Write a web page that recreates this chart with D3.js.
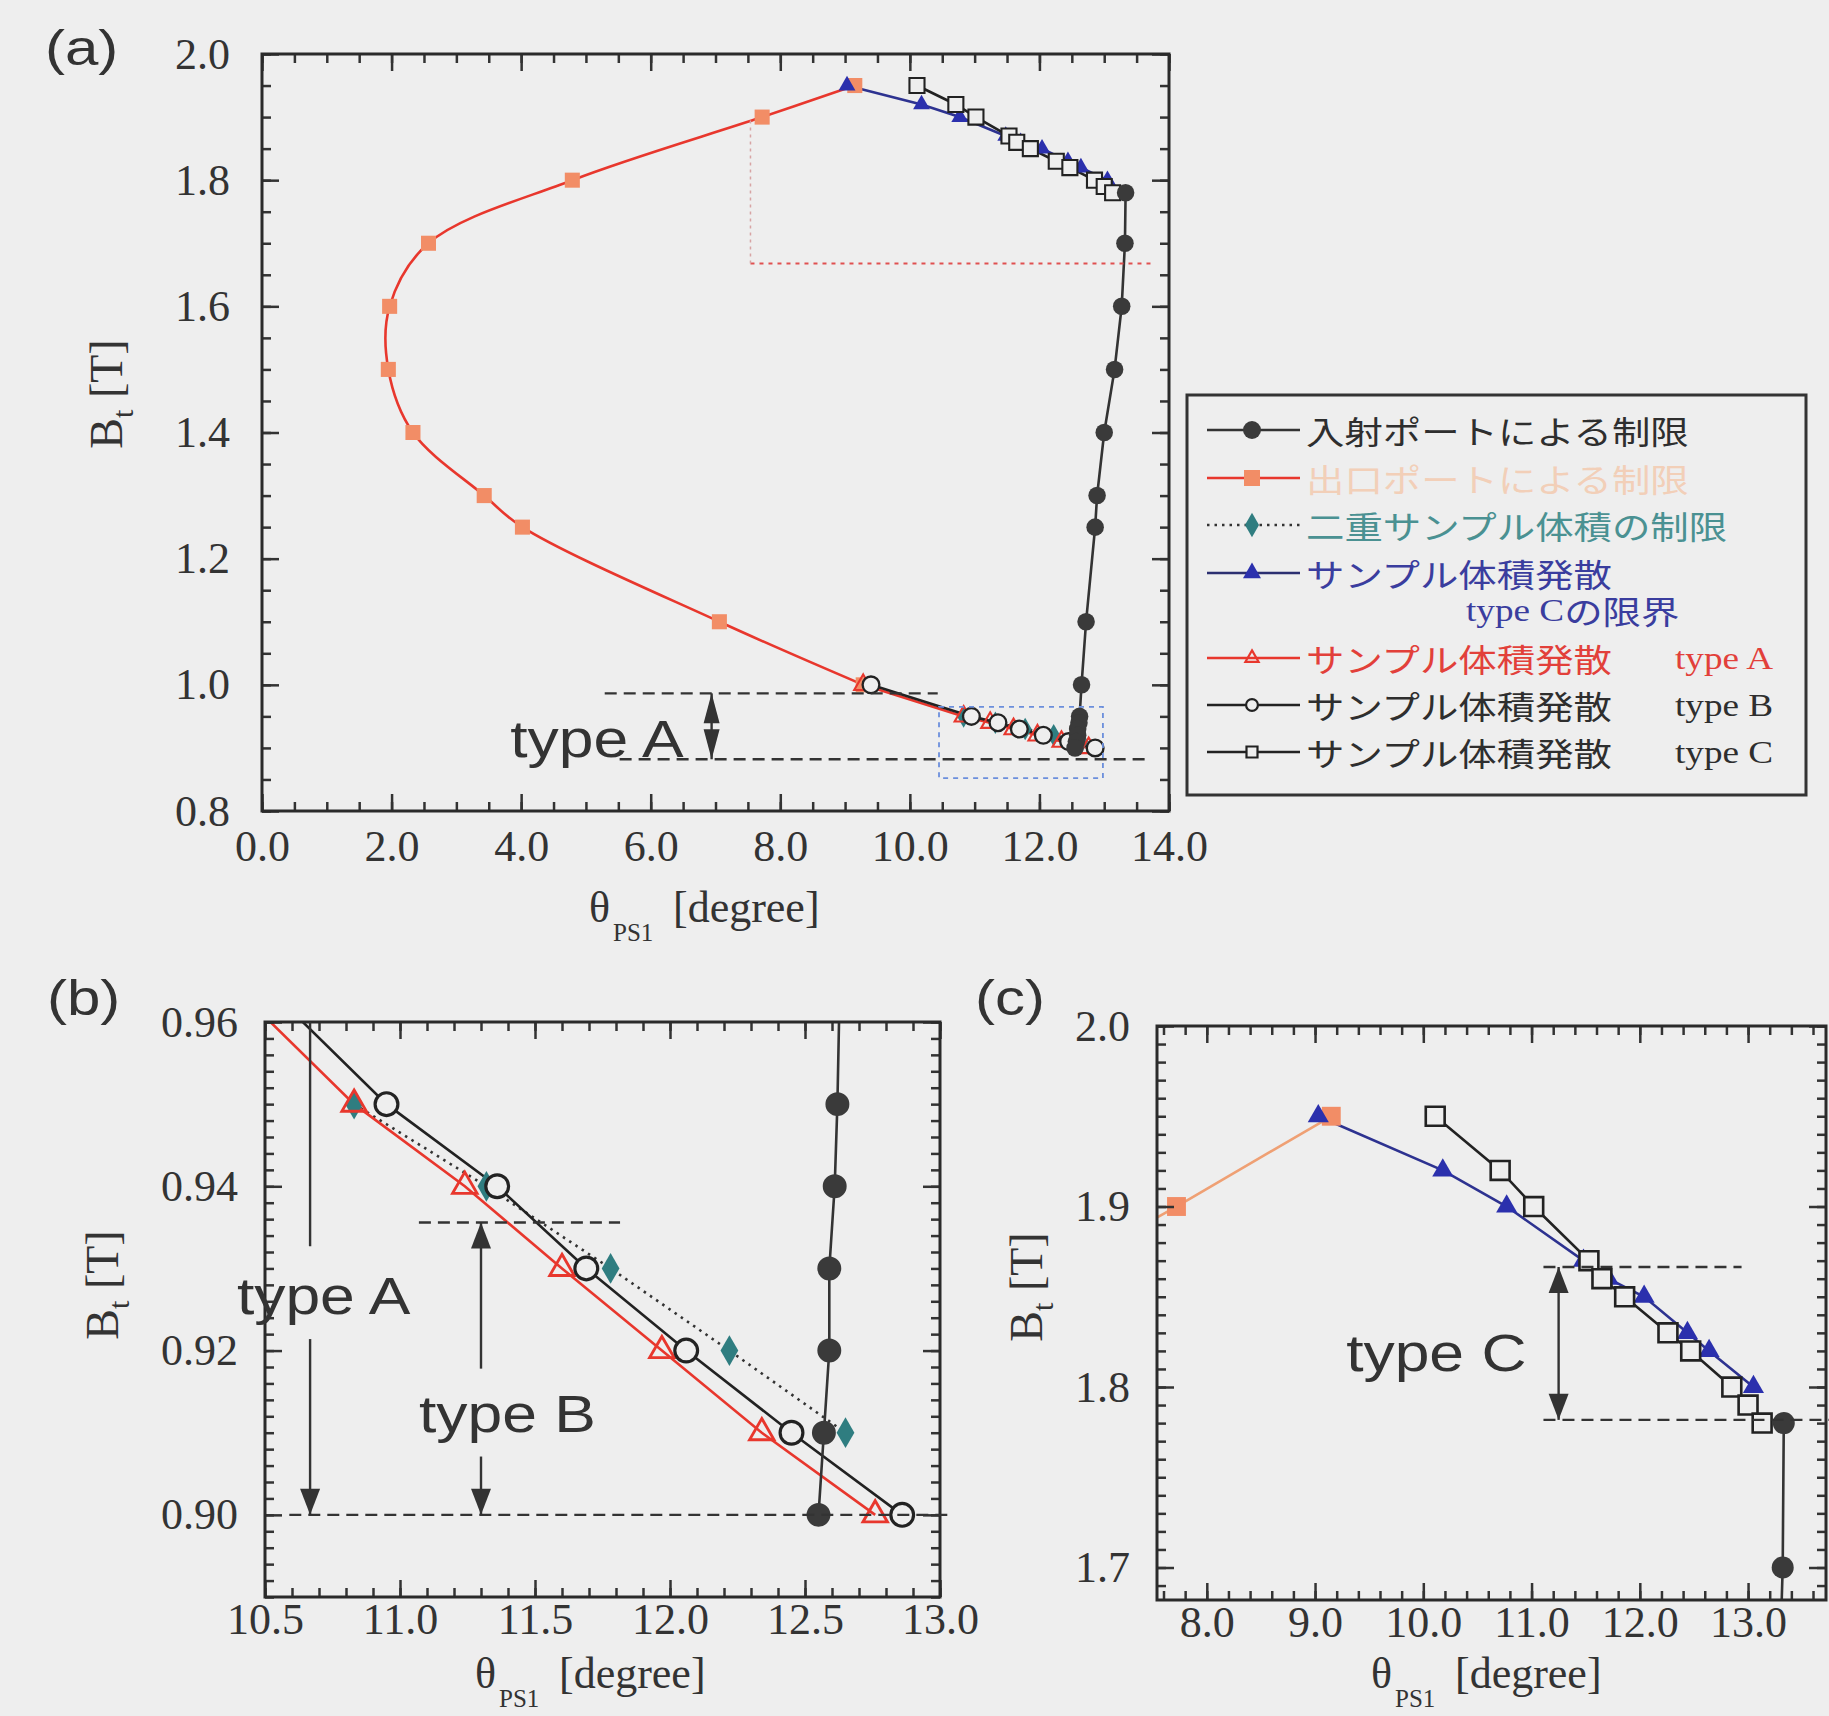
<!DOCTYPE html>
<html>
<head>
<meta charset="utf-8">
<title>B_t vs theta_PS1</title>
<script src="https://cdn.jsdelivr.net/npm/d3@7/dist/d3.min.js"></script>
<style>
  body { margin: 0; background: #eeeeee; }
  svg { display: block; }
</style>
</head>
<body>
<svg id="chart" width="1829" height="1716"></svg>
<script>
// values: theta_PS1 [degree] and B_t [T]
const entryTheta = [13.33, 13.32, 13.27, 13.16, 13.0, 12.89, 12.86, 12.72, 12.65, 12.62, 12.61, 12.59, 12.59, 12.57, 12.55];
const entryB = [1.78, 1.70, 1.60, 1.50, 1.40, 1.30, 1.25, 1.10, 1.00, 0.95, 0.94, 0.93, 0.92, 0.91, 0.90];

const exitTheta = [9.15, 7.72, 4.79, 2.57, 1.97, 1.95, 2.33, 3.43, 4.02, 7.06, 9.28];
const exitB = [1.95, 1.90, 1.80, 1.70, 1.60, 1.50, 1.40, 1.30, 1.25, 1.10, 1.00];

const doubleTheta = [10.83, 11.32, 11.78, 12.22, 12.65];
const doubleB = [0.95, 0.94, 0.93, 0.92, 0.91];

const limitCTheta = [9.03, 10.18, 10.77, 11.48, 11.71, 12.04, 12.44, 12.64, 13.05];
const limitCB = [1.95, 1.92, 1.90, 1.87, 1.86, 1.85, 1.83, 1.82, 1.80];

const typeATheta = [9.28, 10.83, 11.24, 11.60, 11.97, 12.34, 12.76];
const typeAB = [1.00, 0.95, 0.94, 0.93, 0.92, 0.91, 0.90];

const typeBTheta = [9.40, 10.95, 11.36, 11.69, 12.06, 12.45, 12.86];
const typeBB = [1.00, 0.95, 0.94, 0.93, 0.92, 0.91, 0.90];

const typeCTheta = [10.11, 10.71, 11.02, 11.53, 11.65, 11.86, 12.26, 12.47, 12.85, 13.00, 13.13];
const typeCB = [1.95, 1.92, 1.90, 1.87, 1.86, 1.85, 1.83, 1.82, 1.80, 1.79, 1.78];

// tick labels
const xTickLabelsA = ["0.0", "2.0", "4.0", "6.0", "8.0", "10.0", "12.0", "14.0"];
const yTickLabelsA = ["0.8", "1.0", "1.2", "1.4", "1.6", "1.8", "2.0"];
const xTickLabelsB = ["10.5", "11.0", "11.5", "12.0", "12.5", "13.0"];
const yTickLabelsB = ["0.90", "0.92", "0.94", "0.96"];
const xTickLabelsC = ["8.0", "9.0", "10.0", "11.0", "12.0", "13.0"];
const yTickLabelsC = ["1.7", "1.8", "1.9", "2.0"];

// legend
const legendLabels = ["入射ポートによる制限", "出口ポートによる制限", "二重サンプル体積の制限",
  "サンプル体積発散", "サンプル体積発散", "サンプル体積発散", "サンプル体積発散"];
const legendSuffix = ["", "", "", "", "type A", "type B", "type C"];
const legendSecondLine = ["type C", "の限界"];

const BG = "#eeeeee";
const SERIF = "'Liberation Serif', 'Times New Roman', serif";
const SANS = "'Liberation Sans', Arial, sans-serif";
const CJK = "'Noto Sans CJK JP', sans-serif";

const zip = (ts, bs) => ts.map((t, i) => ({ t: t, b: bs[i] }));

// drawing order = list order
const seriesList = [
  { key: "exit", pts: zip(exitTheta, exitB), line: "#e8372d", lineC: "#efa074", smooth: true,
    sym: d3.symbolSquare, size: 324, fill: "#f28d66", legendSize: 256, text: "#f2cfb8" },
  { key: "limitC", pts: zip(limitCTheta, limitCB), line: "#2d3290",
    sym: d3.symbolTriangle, size: 175, fill: "#2b30ad", legendSize: 140, legendLine: "#2b2f70", text: "#3a3d9e" },
  { key: "typeC", pts: zip(typeCTheta, typeCB), line: "#222",
    sym: d3.symbolSquare, size: 324, fill: BG, stroke: "#222", sw: 2.5, legendSize: 121, text: "#2e2e2e" },
  { key: "double", pts: zip(doubleTheta, doubleB), line: "#333", dash: "2.5,5",
    sym: d3.symbolDiamond, size: 210, fill: "#2f7d80", legendSize: 170, text: "#4a9192" },
  { key: "typeA", pts: zip(typeATheta, typeAB), line: "#e8372d",
    sym: d3.symbolTriangle, size: 200, fill: "none", stroke: "#e8372d", sw: 2.5, legendSize: 75, text: "#e2403a" },
  { key: "typeB", pts: zip(typeBTheta, typeBB), line: "#222",
    sym: d3.symbolCircle, size: 314, fill: BG, stroke: "#222", sw: 2.8, legendSize: 110, text: "#2e2e2e" },
  { key: "entry", pts: zip(entryTheta, entryB), line: "#333",
    sym: d3.symbolCircle, size: 346, fill: "#3a3a3a", legendSize: 254, text: "#2e2e2e" }
];
const byKey = {};
seriesList.forEach(s => byKey[s.key] = s);

const panels = [
  { id: "a", left: 262, right: 1169, top: 54, bottom: 811, xDom: [0, 14], yDom: [0.8, 2.0], mk: 0.7,
    xLabels: xTickLabelsA, yLabels: yTickLabelsA, xMinor: 0.5, yMinor: 0.05, xPad: 19, yPad: 32 },
  { id: "b", left: 265, right: 940, top: 1022, bottom: 1597, xDom: [10.5, 13.0], yDom: [0.89, 0.96], mk: 1.3,
    xLabels: xTickLabelsB, yLabels: yTickLabelsB, xMinor: 0.1, yMinor: 0.002, xPad: 6, yPad: 27 },
  { id: "c", left: 1157, right: 1826, top: 1026, bottom: 1600, xDom: [7.54, 13.72], yDom: [1.682, 2.0], mk: 1.1,
    xLabels: xTickLabelsC, yLabels: yTickLabelsC, xMinor: 0.2, yMinor: 0.01, xPad: 6, yPad: 27 }
];

const svg = d3.select("#chart");
svg.append("rect").attr("width", 1829).attr("height", 1716).attr("fill", BG);
const defs = svg.append("defs");

function steps(dom, step) {
  const a = Math.ceil(dom[0] / step - 1e-6), b = Math.floor(dom[1] / step + 1e-6);
  return d3.range(a, b + 1).map(k => +(k * step).toFixed(6));
}

function drawAxes(P, sc) {
  const g = svg.append("g");
  const xMaj = P.xLabels.map(Number), yMaj = P.yLabels.map(Number);
  const xMin = steps(P.xDom, P.xMinor), yMin = steps(P.yDom, P.yMinor);
  const L = 17, l = 9;

  const put = (axis, tx, ty) => g.append("g").attr("transform", `translate(${tx},${ty})`).call(axis);
  put(d3.axisBottom(sc.x).tickValues(xMin).tickSize(-l).tickFormat(""), 0, P.bottom);
  put(d3.axisBottom(sc.x).tickValues(xMaj).tickSizeInner(-L).tickSizeOuter(0).tickPadding(P.xPad)
    .tickFormat((d, i) => P.xLabels[i]), 0, P.bottom);
  put(d3.axisTop(sc.x).tickValues(xMin).tickSize(-l).tickFormat(""), 0, P.top);
  put(d3.axisTop(sc.x).tickValues(xMaj).tickSize(-L).tickFormat(""), 0, P.top);
  put(d3.axisLeft(sc.y).tickValues(yMin).tickSize(-l).tickFormat(""), P.left, 0);
  put(d3.axisLeft(sc.y).tickValues(yMaj).tickSizeInner(-L).tickSizeOuter(0).tickPadding(P.yPad)
    .tickFormat((d, i) => P.yLabels[i]), P.left, 0);
  put(d3.axisRight(sc.y).tickValues(yMin).tickSize(-l).tickFormat(""), P.right, 0);
  put(d3.axisRight(sc.y).tickValues(yMaj).tickSize(-L).tickFormat(""), P.right, 0);

  g.selectAll(".domain").remove();
  g.selectAll(".tick line").attr("stroke", "#333").attr("stroke-width", 2.5);
  g.selectAll(".tick text").attr("font-family", SERIF).attr("font-size", 44).attr("fill", "#333");

  g.append("rect").attr("x", P.left).attr("y", P.top)
    .attr("width", P.right - P.left).attr("height", P.bottom - P.top)
    .attr("fill", "none").attr("stroke", "#2a2a2a").attr("stroke-width", 3);
}

function drawSeries(P, sc) {
  const plot = svg.append("g").attr("clip-path", `url(#clip-${P.id})`);
  seriesList.forEach(s => {
    const line = d3.line().x(d => sc.x(d.t)).y(d => sc.y(d.b))
      .curve(s.smooth && P.id === "a" ? d3.curveCatmullRom.alpha(0.5) : d3.curveLinear);
    plot.append("path").datum(s.pts).attr("d", line)
      .attr("fill", "none")
      .attr("stroke", (P.id === "c" && s.lineC) ? s.lineC : s.line)
      .attr("stroke-width", 2.6)
      .attr("stroke-dasharray", s.dash || null);
  });
  seriesList.forEach(s => {
    plot.selectAll(null).data(s.pts).enter().append("path")
      .attr("transform", d => `translate(${sc.x(d.t)},${sc.y(d.b)})`)
      .attr("d", d3.symbol(s.sym, s.size * P.mk)())
      .attr("fill", s.fill)
      .attr("stroke", s.stroke || "none")
      .attr("stroke-width", s.sw ? s.sw * Math.sqrt(P.mk) : 0);
  });
}

// annotation helpers
function hDash(g, sc, b, t0, t1) {
  g.append("line").attr("x1", sc.x(t0)).attr("x2", sc.x(t1)).attr("y1", sc.y(b)).attr("y2", sc.y(b))
    .attr("stroke", "#333").attr("stroke-width", 2.4).attr("stroke-dasharray", "12,7");
}
function vSeg(g, sc, t, b0, b1) {
  g.append("line").attr("x1", sc.x(t)).attr("x2", sc.x(t)).attr("y1", sc.y(b0)).attr("y2", sc.y(b1))
    .attr("stroke", "#333").attr("stroke-width", 2.4);
}
function head(g, sc, t, b, dir, len, wid) {
  // dir 1: pointing down, -1: pointing up
  const x = sc.x(t), y = sc.y(b);
  g.append("path").attr("d", `M${x},${y}L${x - wid},${y - dir * len}L${x + wid},${y - dir * len}Z`)
    .attr("fill", "#333");
}
function wideText(g, x, y, str, size, family, anchor, fill) {
  return g.append("text").attr("transform", `translate(${x},${y}) scale(1.2,1)`)
    .attr("text-anchor", anchor).attr("font-family", family).attr("font-size", size)
    .attr("fill", fill || "#333").text(str);
}
function note(g, sc, t, b, str) {
  wideText(g, sc.x(t), sc.y(b), str, 52, SANS, "middle", "#333");
}

function xTitle(x0, y) {
  const t = svg.append("text").attr("font-family", SERIF).attr("fill", "#333").attr("font-size", 44)
    .attr("x", x0).attr("y", y);
  t.append("tspan").text("θ");
  t.append("tspan").attr("x", x0 + 24).attr("dy", 19).attr("font-size", 25).text("PS1");
  t.append("tspan").attr("x", x0 + 84).attr("dy", -19).text("[degree]");
}
function yTitle(x, y) {
  const t = svg.append("text").attr("font-family", SERIF).attr("fill", "#333").attr("font-size", 46)
    .attr("text-anchor", "middle").attr("transform", `translate(${x},${y}) rotate(-90)`);
  t.append("tspan").text("B");
  t.append("tspan").attr("dy", 11).attr("font-size", 30).text("t");
  t.append("tspan").attr("dy", -11).text(" [T]");
}

const scales = {};
panels.forEach(P => {
  defs.append("clipPath").attr("id", `clip-${P.id}`).append("rect")
    .attr("x", P.left).attr("y", P.top).attr("width", P.right - P.left).attr("height", P.bottom - P.top);
  const sc = {
    x: d3.scaleLinear().domain(P.xDom).range([P.left, P.right]),
    y: d3.scaleLinear().domain(P.yDom).range([P.bottom, P.top])
  };
  scales[P.id] = sc;
  drawSeries(P, sc);
  drawAxes(P, sc);
});

// ---- panel (a) annotations
{
  const sc = scales.a, g = svg.append("g");
  hDash(g, sc, 0.9865, 5.29, 10.43);
  hDash(g, sc, 0.882, 5.52, 13.73);
  vSeg(g, sc, 6.94, 0.9865, 0.882);
  head(g, sc, 6.94, 0.9865, -1, 30, 8);
  head(g, sc, 6.94, 0.882, 1, 30, 8);
  note(g, sc, 5.17, 0.886, "type A");
  // outline of region (c)
  g.append("line").attr("x1", sc.x(7.54)).attr("x2", sc.x(13.73)).attr("y1", sc.y(1.668)).attr("y2", sc.y(1.668))
    .attr("stroke", "#e05050").attr("stroke-width", 2).attr("stroke-dasharray", "4,5");
  g.append("line").attr("x1", sc.x(7.54)).attr("x2", sc.x(7.54)).attr("y1", sc.y(1.668)).attr("y2", sc.y(1.90))
    .attr("stroke", "#d7a4a4").attr("stroke-width", 1.5).attr("stroke-dasharray", "3,4");
  // outline of region (b)
  g.append("rect").attr("x", sc.x(10.45)).attr("y", sc.y(0.965))
    .attr("width", sc.x(12.98) - sc.x(10.45)).attr("height", sc.y(0.852) - sc.y(0.965))
    .attr("fill", "none").attr("stroke", "#6c8fdc").attr("stroke-width", 1.8).attr("stroke-dasharray", "5,5");
}

// ---- panel (b) annotations
{
  const sc = scales.b, g = svg.append("g");
  hDash(g, sc, 0.9356, 11.07, 11.815);
  hDash(g, sc, 0.90, 10.59, 13.04);
  vSeg(g, sc, 10.667, 0.96, 0.9327);
  vSeg(g, sc, 10.667, 0.9214, 0.90);
  head(g, sc, 10.667, 0.90, 1, 26, 10);
  note(g, sc, 10.717, 0.9244, "type A");
  vSeg(g, sc, 11.30, 0.9356, 0.9178);
  vSeg(g, sc, 11.30, 0.9071, 0.90);
  head(g, sc, 11.30, 0.9356, -1, 26, 10);
  head(g, sc, 11.30, 0.90, 1, 26, 10);
  note(g, sc, 11.398, 0.9101, "type B");
}

// ---- panel (c) annotations
{
  const sc = scales.c, g = svg.append("g");
  hDash(g, sc, 1.8665, 11.11, 12.94);
  hDash(g, sc, 1.7818, 11.11, 13.75);
  vSeg(g, sc, 11.25, 1.8665, 1.7818);
  head(g, sc, 11.25, 1.8665, -1, 26, 10);
  head(g, sc, 11.25, 1.7818, 1, 26, 10);
  note(g, sc, 10.12, 1.8088, "type C");
}

// panel letters and axis titles
wideText(svg, 45, 65, "(a)", 50, SANS, "start", "#333");
wideText(svg, 47, 1015, "(b)", 50, SANS, "start", "#333");
wideText(svg, 975, 1015, "(c)", 50, SANS, "start", "#333");
xTitle(589, 922);
xTitle(475, 1688);
xTitle(1371, 1688);
yTitle(122, 394);
yTitle(118, 1285);
yTitle(1042, 1287);

// ---- legend
{
  const g = svg.append("g");
  g.append("rect").attr("x", 1187).attr("y", 395).attr("width", 619).attr("height", 400)
    .attr("fill", "none").attr("stroke", "#333").attr("stroke-width", 3);
  const order = ["entry", "exit", "double", "limitC", "typeA", "typeB", "typeC"];
  const rowY = [430, 478, 525, 573, 658, 705, 752];
  order.forEach((k, i) => {
    const s = byKey[k], y = rowY[i];
    g.append("line").attr("x1", 1207).attr("x2", 1300).attr("y1", y).attr("y2", y)
      .attr("stroke", s.legendLine || s.line).attr("stroke-width", 2.6)
      .attr("stroke-dasharray", s.dash || null);
    g.append("path").attr("transform", `translate(1252,${y})`)
      .attr("d", d3.symbol(s.sym, s.legendSize)())
      .attr("fill", s.fill).attr("stroke", s.stroke || "none").attr("stroke-width", s.sw ? 2.2 : 0);
    wideText(g, 1306, y, legendLabels[i], 32, CJK, "start", s.text).attr("dominant-baseline", "central");
    if (legendSuffix[i]) {
      wideText(g, 1675, y, legendSuffix[i], 31, SERIF, "start", s.text).attr("dominant-baseline", "central");
    }
  });
  const t2 = wideText(g, 1466, 610, "", 31, SERIF, "start", byKey.limitC.text).attr("dominant-baseline", "central");
  t2.append("tspan").text(legendSecondLine[0]);
  t2.append("tspan").attr("font-family", CJK).attr("font-size", 32).text(legendSecondLine[1]);
}
</script>
</body>
</html>
